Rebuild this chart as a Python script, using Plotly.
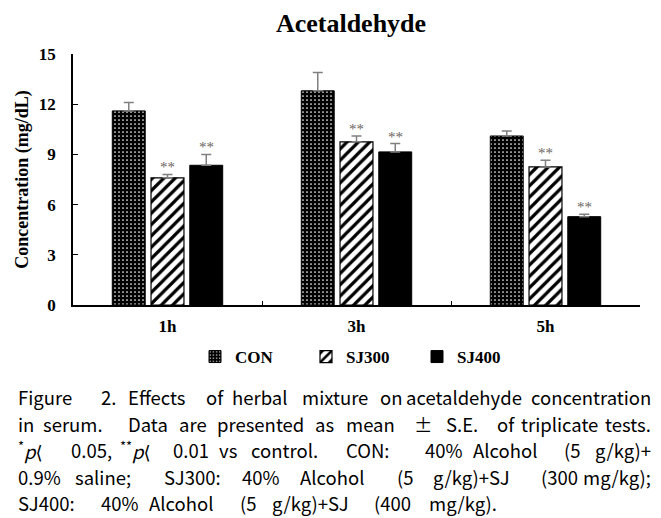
import plotly.graph_objects as go

times = ["1h", "3h", "5h"]
groups = ["CON", "SJ300", "SJ400"]
con_vals = [11.6, 12.8, 10.1]
con_err = [0.5, 1.1, 0.3]
sj300_vals = [7.6, 9.75, 8.25]
sj300_err = [0.2, 0.35, 0.4]
sj400_vals = [8.35, 9.15, 5.28]
sj400_err = [0.65, 0.5, 0.15]
sj300_sig = ["**", "**", "**"]
sj400_sig = ["**", "**", "**"]

caption_words = [
    ["Figure", "2.", "Effects", "of", "herbal", "mixture", "on", "acetaldehyde", "concentration"],
    ["in", "serum.", "Data", "are", "presented", "as", "mean", "±", "S.E.", "of", "triplicate", "tests."],
    ["<sup>*</sup><i>p</i>\u27e8", "0.05,", "<sup>**</sup><i>p</i>\u27e8", "0.01", "vs", "control.", "CON:",
     "40%", "Alcohol", "(5", "g/kg)+"],
    ["0.9%", "saline;", "SJ300:", "40%", "Alcohol", "(5", "g/kg)+SJ", "(300", "mg/kg);"],
    ["SJ400:", "40%", "Alcohol", "(5", "g/kg)+SJ", "(400", "mg/kg)."],
]

# ---- layout constants (pixel positions of the justified caption words) ----
W, H = 661, 518
L, R, T, B = 73, 21, 54, 213
PW, PH = W - L - R, H - T - B
BARGAP, GROUPGAP = 0.385, 0.15
caption_x = [
    [17, 100, 127, 205, 231, 301, 379, 405, None],
    [17, 42, 127, 178, 216, 314, 345, 413, 445, 496, 520, None],
    [17, 70, 119, 172, 218, 250, 345, 424, 472, 563, None],
    [17, 74, 163, 241, 299, 396, 432, 540, None],
    [17, 100, 148, 239, 271, 373, 428],
]
caption_y = [399, 426, 452, 479, 505]
CAP_RIGHT = 652
CAP_SIZE = 18.5

serif = "Liberation Serif"
err_style = dict(type="data", symmetric=False, color="#808080", thickness=1.5, width=5)

fig = go.Figure()
fig.add_trace(go.Bar(
    name="CON", x=times, y=con_vals,
    error_y=dict(array=con_err, arrayminus=[0] * 3, **err_style),
    marker=dict(color="black", line=dict(color="black", width=1),
                pattern=dict(shape=".", fgcolor="white", bgcolor="black", size=4, solidity=0.15, fillmode="replace")),
))
fig.add_trace(go.Bar(
    name="SJ300", x=times, y=sj300_vals,
    error_y=dict(array=sj300_err, arrayminus=[0] * 3, **err_style),
    marker=dict(color="white", line=dict(color="black", width=1.2),
                pattern=dict(shape="/", fgcolor="black", bgcolor="white", size=8, solidity=0.4, fillmode="replace")),
))
fig.add_trace(go.Bar(
    name="SJ400", x=times, y=sj400_vals,
    error_y=dict(array=sj400_err, arrayminus=[0] * 3, **err_style),
    marker=dict(color="black", line=dict(color="black", width=1)),
))

# significance stars
cat_px = PW / len(times)
slot = cat_px * (1 - BARGAP) / 3
for gi, (vals, errs, sig) in enumerate([(sj300_vals, sj300_err, sj300_sig), (sj400_vals, sj400_err, sj400_sig)], start=1):
    for i, t in enumerate(times):
        fig.add_annotation(x=t, y=vals[i] + errs[i], text=sig[i], showarrow=False,
                           xshift=(gi - 1) * slot, yshift=7, yanchor="middle",
                           font=dict(family=serif, size=15, color="#6b6660"))


def px_x(px):
    return (px - L) / PW


def px_y(py):
    return (T + PH - py) / PH


cap_font = dict(family="Noto Sans CJK KR, DejaVu Sans", size=CAP_SIZE, color="black")
for words, xs, py in zip(caption_words, caption_x, caption_y):
    for wd, xp in zip(words, xs):
        if xp is None:
            fig.add_annotation(xref="paper", yref="paper", x=px_x(CAP_RIGHT), y=px_y(py), xanchor="right",
                               yanchor="middle", yshift=2, showarrow=False, text=wd, font=cap_font, borderpad=0)
        else:
            fig.add_annotation(xref="paper", yref="paper", x=px_x(xp), y=px_y(py), xanchor="left",
                               yanchor="middle", yshift=2, showarrow=False, text=wd, font=cap_font, borderpad=0)

fig.update_layout(
    width=W, height=H, margin=dict(l=L, r=R, t=T, b=B, autoexpand=False),
    paper_bgcolor="white", plot_bgcolor="white",
    barmode="group", bargap=BARGAP, bargroupgap=GROUPGAP,
    title=dict(text="<b>Acetaldehyde</b>", x=351 / W, xanchor="center", y=1 - 23 / H, yanchor="middle",
               yref="container", font=dict(family=serif, size=26, color="black")),
    legend=dict(orientation="h", x=(195 - L) / PW, xanchor="left", y=px_y(357), yanchor="middle",
                font=dict(family=serif, size=17, color="black", weight="bold"), entrywidth=66, itemwidth=30,
                bgcolor="rgba(0,0,0,0)"),
    showlegend=True,
)
fig.update_xaxes(type="category", tickson="boundaries", ticks="inside", ticklen=4, tickcolor="black",
                 showline=True, linecolor="black", linewidth=1.5, showgrid=False, automargin=False,
                 tickfont=dict(family=serif, size=17, color="black", weight="bold"), ticklabelstandoff=5)
fig.update_yaxes(range=[0, 15], tickvals=[0, 3, 6, 9, 12, 15], ticks="inside", ticklen=5, tickcolor="black",
                 showline=True, linecolor="black", linewidth=1.5, showgrid=False, zeroline=False, automargin=False,
                 tickfont=dict(family=serif, size=17, color="black", weight="bold"), ticklabelstandoff=12,
                 title=dict(text="<b>Concentration (mg/dL)</b>", font=dict(family=serif, size=18, color="black"),
                            standoff=6))

fig.write_html("out.html", config={"displayModeBar": False},
               post_script="document.body.style.margin='0px';")
